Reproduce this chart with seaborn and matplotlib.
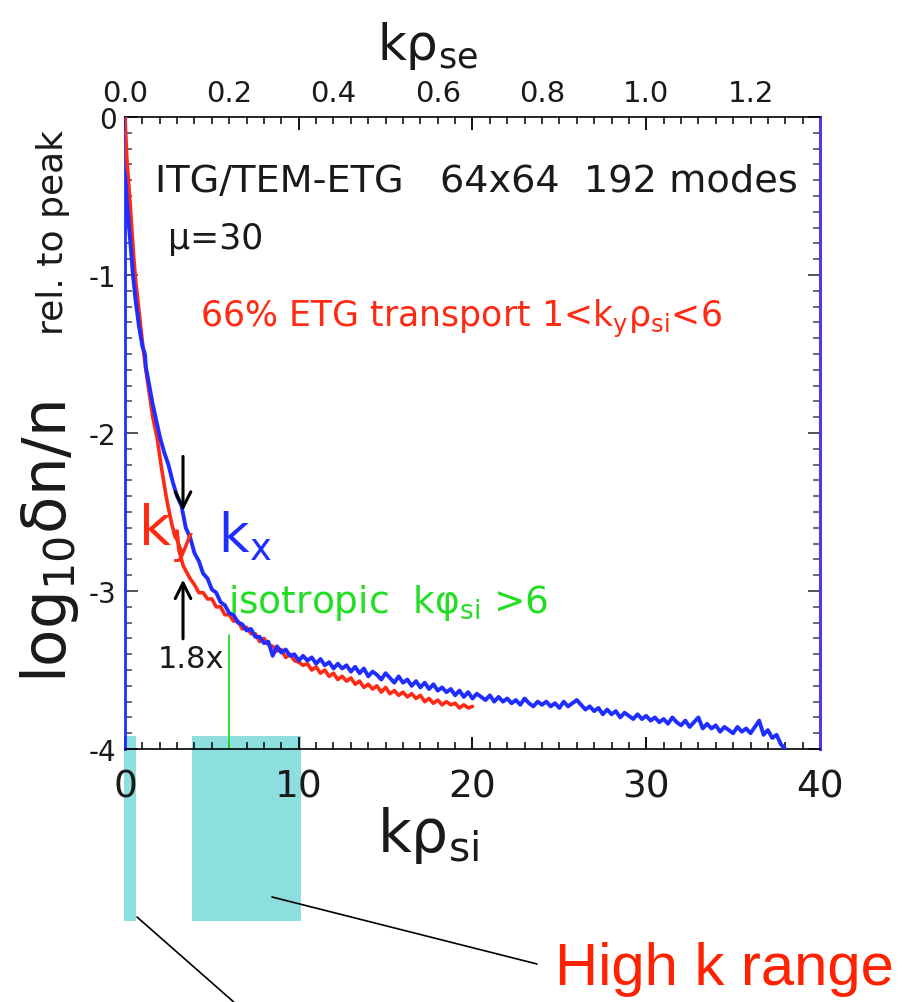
import numpy as np
import matplotlib
matplotlib.use("Agg")
import matplotlib.pyplot as plt
from matplotlib.patches import Rectangle
from matplotlib.lines import Line2D
import seaborn as sns

# ---- spectra: log10(dn/n) relative to peak versus k*rho_si ----
# k_x spectrum (blue): steep low-k part, then the tail on a 0.25 grid
kx_head_k = [0.0, 0.1, 0.2, 0.3, 0.46, 0.6, 0.8, 1.0, 1.15, 1.2, 1.4, 1.6, 1.8]
kx_head_v = [-0.36, -0.52, -0.65, -0.78, -1.00, -1.15, -1.32, -1.45, -1.50, -1.58,
             -1.70, -1.82, -1.92]
kx_tail_k = np.round(np.arange(2.0, 38.001, 0.25), 2)
kx_tail_v = [
    -2.02, -2.12, -2.20, -2.31, -2.40, -2.46, -2.60, -2.66,
    -2.76, -2.81, -2.89, -2.92, -2.99, -3.01, -3.07, -3.09,
    -3.14, -3.15, -3.20, -3.21, -3.25, -3.24, -3.29, -3.29,
    -3.33, -3.32, -3.41, -3.35, -3.39, -3.37, -3.41, -3.40,
    -3.44, -3.41, -3.44, -3.42, -3.46, -3.43, -3.47, -3.45,
    -3.49, -3.46, -3.49, -3.47, -3.51, -3.48, -3.52, -3.49,
    -3.54, -3.51, -3.53, -3.56, -3.52, -3.55, -3.58, -3.54,
    -3.58, -3.56, -3.60, -3.57, -3.61, -3.58, -3.62, -3.59,
    -3.63, -3.61, -3.64, -3.62, -3.66, -3.63, -3.67, -3.64,
    -3.68, -3.65, -3.67, -3.69, -3.66, -3.70, -3.67, -3.70,
    -3.68, -3.71, -3.69, -3.72, -3.68, -3.71, -3.73, -3.70,
    -3.72, -3.70, -3.73, -3.71, -3.74, -3.70, -3.73, -3.71,
    -3.69, -3.72, -3.75, -3.73, -3.76, -3.74, -3.78, -3.75,
    -3.78, -3.76, -3.80, -3.77, -3.79, -3.81, -3.78, -3.81,
    -3.79, -3.82, -3.80, -3.83, -3.81, -3.84, -3.80, -3.83,
    -3.85, -3.82, -3.86, -3.83, -3.80, -3.87, -3.84, -3.87,
    -3.85, -3.89, -3.86, -3.88, -3.90, -3.86, -3.89, -3.87,
    -3.90, -3.86, -3.82, -3.91, -3.88, -3.93, -3.91, -3.97,
    -4.00,
]

# k_y spectrum (red)
ky_head_k = [0.0, 0.05, 0.1, 0.2, 0.3, 0.4, 0.5, 0.6, 0.7, 0.8, 1.0, 1.2, 1.4,
             1.6, 1.85, 2.1, 2.4, 2.7, 2.9, 3.0, 3.1, 3.35, 3.74]
ky_head_v = [0.0, -0.12, -0.25, -0.40, -0.55, -0.72, -0.88, -1.02, -1.12, -1.22,
             -1.42, -1.60, -1.75, -1.90, -2.03, -2.22, -2.42, -2.58, -2.66, -2.62,
             -2.74, -2.84, -2.92]
ky_tail_k = np.round(np.arange(4.0, 20.001, 0.25), 2)
ky_tail_v = [
    -2.96, -3.01, -3.01, -3.05, -3.05, -3.10, -3.10, -3.15,
    -3.15, -3.19, -3.19, -3.24, -3.23, -3.27, -3.27, -3.32,
    -3.30, -3.34, -3.35, -3.38, -3.37, -3.42, -3.40, -3.44,
    -3.45, -3.47, -3.46, -3.50, -3.48, -3.52, -3.50, -3.54,
    -3.52, -3.56, -3.54, -3.57, -3.55, -3.59, -3.57, -3.61,
    -3.59, -3.62, -3.60, -3.64, -3.61, -3.65, -3.63, -3.66,
    -3.64, -3.67, -3.65, -3.68, -3.66, -3.70, -3.68, -3.71,
    -3.69, -3.72, -3.70, -3.72, -3.71, -3.74, -3.72, -3.74,
    -3.73,
]

# shaded wavenumber windows (k*rho_si) shown below the axis
window_lo = [0.0, 3.9]
window_hi = [0.7, 10.2]

# top axis: k*rho_se = k*rho_si / mu
mu = 30
top_ticks = [0.0, 0.2, 0.4, 0.6, 0.8, 1.0, 1.2]
bottom_ticks = [0, 10, 20, 30, 40]
left_ticks = [0, -1, -2, -3, -4]

RED = "#ff2a14"
BLUE = "#1f2eff"
GREEN = "#22dd22"
CYAN = "#8ddfdf"
INK = "#1a1a1a"

sns.set_theme(style="white")
plt.rcParams["font.family"] = ["DejaVu Sans"]
plt.rcParams["mathtext.fontset"] = "dejavusans"
plt.rcParams["axes.unicode_minus"] = False

fig = plt.figure(figsize=(9.03, 10.03), dpi=100)
ax = fig.add_axes([0.1384, 0.2522, 0.7697, 0.6301])
ax.set_facecolor("none")

kx_k = np.concatenate([kx_head_k, kx_tail_k])
kx_v = np.concatenate([kx_head_v, kx_tail_v])
ky_k = np.concatenate([ky_head_k, ky_tail_k])
ky_v = np.concatenate([ky_head_v, ky_tail_v])

sns.lineplot(x=ky_k, y=ky_v, ax=ax, color=RED, linewidth=2.6, sort=False,
             estimator=None, zorder=3)
sns.lineplot(x=kx_k, y=kx_v, ax=ax, color=BLUE, linewidth=2.8, sort=False,
             estimator=None, zorder=4)

ax.set_xlim(0, 40)
ax.set_ylim(-4, 0)

# shaded windows extend below the axis
for lo, hi in zip(window_lo, window_hi):
    ax.add_patch(Rectangle((lo - 0.06, -5.09), hi - lo, 1.17, facecolor=CYAN,
                           edgecolor="none", clip_on=False, zorder=0.5))

# spines
for s in ["top", "bottom"]:
    ax.spines[s].set_color("black")
    ax.spines[s].set_linewidth(1.2)
ax.spines["left"].set_color(BLUE)
ax.spines["left"].set_linewidth(2.0)
ax.spines["right"].set_color("#5b33e6")
ax.spines["right"].set_linewidth(2.2)

# ticks
ax.set_xticks(bottom_ticks)
ax.set_xticks(np.arange(0, 41, 1), minor=True)
ax.set_yticks(left_ticks)
ax.set_yticks(np.arange(-4, 0.01, 0.1), minor=True)
ax.set_xticklabels([str(t) for t in bottom_ticks])
ax.set_yticklabels([str(t) for t in left_ticks])
ax.tick_params(axis="x", which="both", direction="in", top=True, bottom=True,
               color="black")
ax.tick_params(axis="x", which="major", length=9, width=1.3, pad=14,
               labelsize=27, labelcolor=INK)
ax.tick_params(axis="x", which="minor", length=5, width=1.1)
ax.tick_params(axis="y", which="both", direction="in", left=True, right=True,
               color="#444444")
ax.tick_params(axis="y", which="major", length=9, width=1.3, pad=6,
               labelsize=20, labelcolor=INK)
ax.tick_params(axis="y", which="minor", length=5, width=1.1)
for t in ax.yaxis.get_ticklines(minor=False) + ax.yaxis.get_ticklines(minor=True):
    if t.get_marker() == 1:  # right-side ticks
        t.set_color(BLUE)

secax = ax.secondary_xaxis("top", functions=(lambda x: x / mu, lambda x: x * mu))
secax.set_xticks(top_ticks)
secax.set_xticklabels([f"{t:.1f}" for t in top_ticks])
secax.tick_params(length=0, pad=7, labelsize=21, labelcolor=INK)
secax.spines["top"].set_visible(False)

# axis titles
fig.text(428 / 903, 1 - 60 / 1003, r"kρ$_{\mathregular{se}}$", fontsize=36,
         ha="center", va="baseline", color=INK)
fig.text(428 / 903, 1 - 852 / 1003, r"kρ$_{\mathregular{si}}$", fontsize=42,
         ha="center", va="baseline", color=INK)
fig.text(50 / 903, 1 - 542 / 1003, r"log$_{\mathregular{10}}$δn/n", fontsize=44,
         rotation=90, ha="center", va="center", color=INK)
fig.text(53 / 903, 1 - 233 / 1003, "rel. to peak", fontsize=26,
         rotation=90, ha="center", va="center", color=INK)

# annotations inside the panel
ax.text(1.73, -0.468, "ITG/TEM-ETG   64x64  192 modes", fontsize=27.5,
        color=INK, va="baseline")
ax.text(2.5, -0.83, "μ=30", fontsize=25, color=INK, va="baseline")
ax.text(4.3, -1.32, r"66% ETG transport 1<k$_{\mathregular{y}}$ρ$_{\mathregular{si}}$<6",
        fontsize=25, color=RED, va="baseline")
ax.text(0.75, -2.70, r"k$_{\mathregular{y}}$", fontsize=40, color=RED,
        va="baseline", zorder=5)
ax.text(5.35, -2.75, r"k$_{\mathregular{x}}$", fontsize=38, color=BLUE,
        va="baseline", zorder=5)
ax.text(1.9, -3.48, "1.8x", fontsize=22, color=INK, va="baseline", zorder=5)
ax.text(5.93, -3.13, r"isotropic  kφ$_{\mathregular{si}}$ >6", fontsize=27,
        color=GREEN, va="baseline", zorder=5)

ax.annotate("", xy=(3.34, -2.51), xytext=(3.34, -2.13),
            arrowprops=dict(arrowstyle="->", color="black", lw=2.2,
                            mutation_scale=28), zorder=6)
ax.annotate("", xy=(3.34, -2.91), xytext=(3.34, -3.32),
            arrowprops=dict(arrowstyle="->", color="black", lw=2.2,
                            mutation_scale=28), zorder=6)
ax.plot([6, 6], [-3.28, -4.0], color=GREEN, linewidth=1.3, zorder=2)

# callouts below the axis
fig.add_artist(Line2D([272 / 903, 537 / 903], [1 - 898 / 1003, 1 - 965 / 1003],
                      color="black", linewidth=1.2))
fig.add_artist(Line2D([137 / 903, 236 / 903], [1 - 918 / 1003, 1 - 1005 / 1003],
                      color="black", linewidth=1.2))
fig.text(555 / 903, 1 - 985 / 1003, "High k range", fontsize=43, color="#ff2200",
         family=["Liberation Sans", "DejaVu Sans"], va="baseline")

fig.savefig("out.png", dpi=100)
